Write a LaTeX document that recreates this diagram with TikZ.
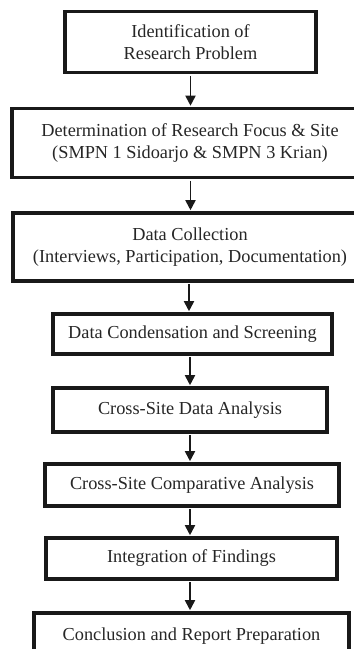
\documentclass[tikz,border=0pt]{standalone}
\usepackage{fontspec}
\setmainfont{Liberation Serif}
\usetikzlibrary{arrows.meta}
\begin{document}
\begin{tikzpicture}[x=1pt,y=-1pt,
  box/.style={draw=black!90,line width=3.6pt,rectangle,inner sep=0pt,align=center,
    font=\fontsize{18.3}{22.5}\selectfont,text=black!85},
  arr/.style={line width=1.8pt,draw=black!90,-{Triangle[length=10pt,width=10pt]},shorten <=1.5pt,shorten >=1pt}]
\useasboundingbox (0,0) rectangle (354,649);
\clip (0,0) rectangle (354,649);
\node[box,minimum width=251pt,minimum height=61pt] (b1) at (190.5,42) {Identification of\\Research Problem};
\node[box,minimum width=356pt,minimum height=69pt] (b2) at (190,143) {Determination of Research Focus \& Site\\(SMPN 1 Sidoarjo \& SMPN 3 Krian)};
\node[box,minimum width=354pt,minimum height=68pt] (b3) at (190,247) {Data Collection\\(Interviews, Participation, Documentation)};
\node[box,minimum width=279pt,minimum height=40pt] (b4) at (192.5,334) {Data Condensation and Screening};
\node[box,minimum width=274pt,minimum height=44pt] (b5) at (190,410) {Cross-Site Data Analysis};
\node[box,minimum width=294pt,minimum height=42pt] (b6) at (192,485) {Cross-Site Comparative Analysis};
\node[box,minimum width=291pt,minimum height=41pt] (b7) at (191.5,558.5) {Integration of Findings};
\node[box,minimum width=315pt,minimum height=46pt] (b8) at (191.5,636) {Conclusion and Report Preparation};
\draw[arr] (b1.south) -- (b1.south |- b2.north);
\draw[arr] (b1.south |- b2.south) -- (b1.south |- b3.north);
\draw[arr] ([xshift=-1.5pt]b1.south |- b3.south) -- ([xshift=-1.5pt]b1.south |- b4.north);
\draw[arr] (b5.north |- b4.south) -- (b5.north);
\draw[arr] (b5.south) -- (b5.south |- b6.north);
\draw[arr] (b5.south |- b6.south) -- (b5.south |- b7.north);
\draw[arr] (b5.south |- b7.south) -- (b5.south |- b8.north);
\end{tikzpicture}
\end{document}
